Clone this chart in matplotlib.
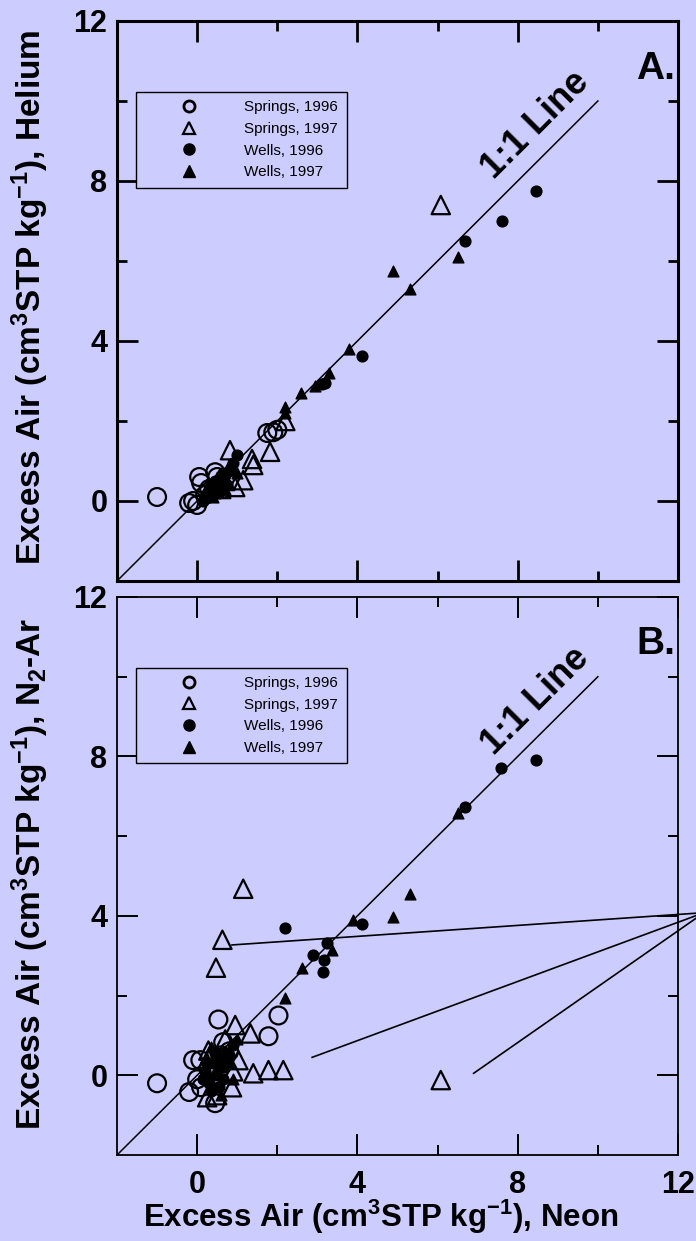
import matplotlib
matplotlib.use("Agg")
import matplotlib.pyplot as plt
from matplotlib.lines import Line2D
import numpy as np

plt.rcParams['font.family'] = ['Liberation Sans', 'DejaVu Sans']
plt.rcParams['mathtext.fontset'] = 'custom'
plt.rcParams['mathtext.rm'] = 'Liberation Sans:bold'
plt.rcParams['mathtext.it'] = 'Liberation Sans:bold'
plt.rcParams['mathtext.bf'] = 'Liberation Sans:bold'
plt.rcParams['mathtext.default'] = 'rm'

BG = '#CCCCFF'

# ---------------- Data: Panel A (Helium vs Neon) ----------------
a_spr96_x = [-1.0, -0.2, -0.1, 0.0, 0.05, 0.1, 0.45, 0.5, 0.3, 0.2, 1.75, 2.0, 1.9]
a_spr96_y = [0.1, -0.05, 0.0, -0.1, 0.6, 0.45, 0.72, 0.6, 0.3, 0.15, 1.7, 1.78, 1.72]

a_spr97_x = [6.08, 2.2, 1.82, 1.37, 0.82, 1.4, 1.15, 0.95, 0.6, 0.7]
a_spr97_y = [7.4, 2.0, 1.23, 1.05, 1.27, 0.9, 0.52, 0.35, 0.3, 0.5]

a_wel96_x = [8.45, 7.6, 6.68, 4.12, 3.12, 3.2, 1.0, 0.9, 0.8, 0.7, 0.6, 0.5, 0.4,
             0.3, 0.2, 0.55, 0.75, 0.65, 0.45, 0.35, 0.15, 0.25]
a_wel96_y = [7.75, 7.0, 6.5, 3.62, 2.92, 2.95, 1.15, 0.95, 0.75, 0.65, 0.5, 0.35, 0.25,
             0.2, 0.1, 0.2, 0.4, 0.7, 0.5, 0.4, 0.0, 0.15]

a_wel97_x = [4.9, 5.3, 6.5, 3.8, 3.3, 2.6, 2.95, 2.2, 2.2, 0.9, 0.8, 0.6, 0.5, 0.4,
             0.3, 0.7, 1.0, 0.2]
a_wel97_y = [5.75, 5.3, 6.1, 3.8, 3.2, 2.7, 2.88, 2.35, 2.2, 0.8, 0.9, 0.4, 0.6, 0.1,
             0.35, 0.3, 0.7, 0.25]

# ---------------- Data: Panel B (N2-Ar vs Neon) ----------------
b_spr96_x = [-1.0, 0.53, 2.03, 1.78, -0.1, -0.2, 0.45, 0.65, 0.08, 0.0, 0.3, 0.6,
             0.1, 0.4, 0.8]
b_spr96_y = [-0.2, 1.4, 1.5, 0.98, 0.38, -0.42, -0.7, 0.83, 0.38, -0.1, 0.2, 0.5,
             -0.3, 0.0, 0.6]

b_spr97_x = [1.15, 0.63, 0.47, 6.08, 1.4, 1.78, 2.15, 1.33, 0.95, 0.87, 0.28, 0.25,
             1.03, 0.5, 0.9, 0.7]
b_spr97_y = [4.68, 3.4, 2.7, -0.12, 0.05, 0.13, 0.13, 1.05, 1.26, -0.3, 0.62, -0.55,
             0.38, -0.5, 0.1, 0.9]

b_wel96_x = [8.45, 7.58, 6.68, 4.12, 2.2, 3.25, 2.9, 3.17, 3.15, 0.2, 0.3, 0.4, 0.5,
             0.6, 0.7, 0.8, 0.35, 0.55, 0.45, 0.9, 0.25, 0.65, 0.15]
b_wel96_y = [7.92, 7.72, 6.72, 3.8, 3.7, 3.32, 3.02, 2.9, 2.6, 0.1, -0.2, 0.3, 0.0,
             0.4, 0.2, 0.5, -0.4, -0.3, 0.55, 0.75, 0.3, -0.1, -0.1]

b_wel97_x = [5.3, 4.88, 3.88, 3.37, 2.62, 6.5, 2.2, 0.3, 0.5, 0.7, 0.4, 0.6, 0.8,
             0.2, 1.0, 0.9, 0.35]
b_wel97_y = [4.55, 3.97, 3.9, 3.15, 2.7, 6.57, 1.94, 0.0, 0.2, 0.6, -0.3, -0.5, 0.3,
             0.4, 0.9, -0.1, 0.7]

# leader lines in panel B (start points, common end point off the right edge)
lead_x0 = [0.87, 2.87, 6.9]
lead_y0 = [3.27, 0.45, 0.05]
lead_x1 = 12.65
lead_y1 = 4.08

one_to_one = [-2, 10]

series_names = ["Springs, 1996", "Springs, 1997", "Wells, 1996", "Wells, 1997"]

x_major = [0, 4, 8, 12]
x_minor = [2, 6, 10]
y_major = [0, 4, 8, 12]
y_minor = [2, 6, 10]

fig = plt.figure(figsize=(6.96, 12.41), dpi=100)
fig.patch.set_facecolor(BG)

W, H = 696.0, 1241.0
def box(l, t, r, b):
    return [l / W, 1 - b / H, (r - l) / W, (b - t) / H]

axA = fig.add_axes(box(117, 21, 678, 581))
axB = fig.add_axes(box(117, 597, 678, 1155))

def style(ax, spine_w, tick_w, show_xlabels):
    ax.set_facecolor(BG)
    ax.set_xlim(-2, 12)
    ax.set_ylim(-2, 12)
    ax.set_xticks(x_major)
    ax.set_xticks(x_minor, minor=True)
    ax.set_yticks(y_major)
    ax.set_yticks(y_minor, minor=True)
    for s in ax.spines.values():
        s.set_linewidth(spine_w)
    ax.tick_params(which='both', direction='in', top=True, right=True, width=tick_w)
    ax.tick_params(which='major', length=15)
    ax.tick_params(which='minor', length=7.5)
    ax.tick_params(axis='y', which='major', pad=7, labelsize=22)
    ax.tick_params(axis='x', which='major', pad=11, labelsize=22)
    for lab in ax.get_xticklabels() + ax.get_yticklabels():
        lab.set_fontweight('bold')
    if not show_xlabels:
        ax.tick_params(axis='x', labelbottom=False)

def draw(ax, s96x, s96y, s97x, s97y, w96x, w96y, w97x, w97y):
    ax.plot(one_to_one, one_to_one, color='black', lw=1.1, zorder=2)
    ax.scatter(w96x, w96y, s=60, marker='o', color='black', zorder=3)
    ax.scatter(w97x, w97y, s=60, marker='^', color='black', zorder=3)
    ax.scatter(s96x, s96y, s=165, marker='o', facecolors='none', edgecolors='black',
               linewidths=1.6, zorder=4)
    ax.scatter(s97x, s97y, s=175, marker='^', facecolors='none', edgecolors='black',
               linewidths=1.6, zorder=4)
    ax.text(8.45, 9.4, "1:1 Line", rotation=45, rotation_mode='anchor',
            ha='center', va='center', fontsize=26, fontweight='bold')
    handles = [
        Line2D([], [], ls='none', marker='o', ms=8, mfc='none', mec='black', mew=2),
        Line2D([], [], ls='none', marker='^', ms=8, mfc='none', mec='black', mew=1.6),
        Line2D([], [], ls='none', marker='o', ms=8, mfc='black', mec='black'),
        Line2D([], [], ls='none', marker='^', ms=8, mfc='black', mec='black'),
    ]
    leg = ax.legend(handles, series_names, loc='upper left',
                    bbox_to_anchor=((136 - 117) / 561.0, 1 - (92 - 21) / 560.0),
                    fontsize=11, frameon=True, fancybox=False, edgecolor='black',
                    facecolor=BG, framealpha=1, borderpad=0.55, handlelength=5.8,
                    handletextpad=0.75, labelspacing=0.5, borderaxespad=0)
    leg.get_frame().set_linewidth(1.0)

style(axA, 2.2, 2.0, False)
style(axB, 1.3, 1.4, True)

draw(axA, a_spr96_x, a_spr96_y, a_spr97_x, a_spr97_y,
     a_wel96_x, a_wel96_y, a_wel97_x, a_wel97_y)
draw(axB, b_spr96_x, b_spr96_y, b_spr97_x, b_spr97_y,
     b_wel96_x, b_wel96_y, b_wel97_x, b_wel97_y)

for x0, y0 in zip(lead_x0, lead_y0):
    axB.plot([x0, lead_x1], [y0, lead_y1], color='black', lw=1.2, clip_on=False, zorder=2)

axA.text(0.995, 0.915, "A.", transform=axA.transAxes, ha='right', va='center',
         fontsize=28, fontweight='bold')
axB.text(0.995, 0.915, "B.", transform=axB.transAxes, ha='right', va='center',
         fontsize=28, fontweight='bold')

fig.text(30 / W, 1 - 297 / H, r"Excess Air (cm$^{3}$STP kg$^{-1}$), Helium",
         rotation=90, ha='center', va='center', fontsize=24, fontweight='bold')
fig.text(30 / W, 1 - 874 / H, r"Excess Air (cm$^{3}$STP kg$^{-1}$), N$_{2}$-Ar",
         rotation=90, ha='center', va='center', fontsize=24, fontweight='bold')
fig.text(381 / W, 1 - 1217 / H, r"Excess Air (cm$^{3}$STP kg$^{-1}$), Neon",
         ha='center', va='center', fontsize=22.5, fontweight='bold')

fig.savefig("out.png", dpi=100, facecolor=BG)
